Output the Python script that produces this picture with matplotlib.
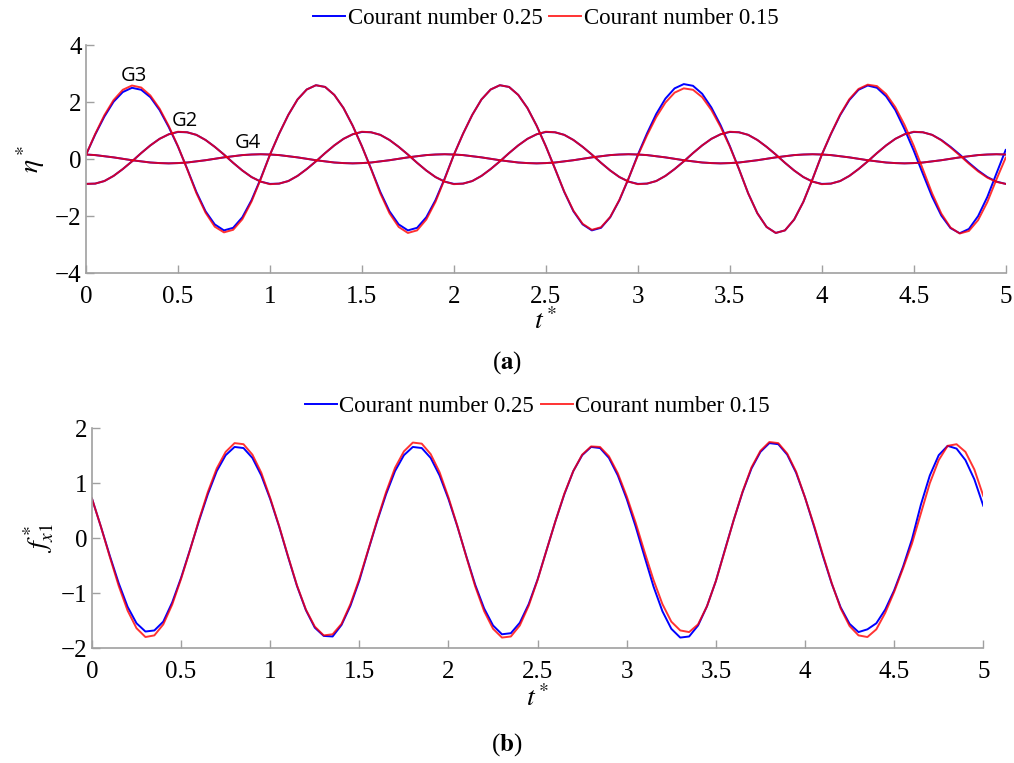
import numpy as np
import matplotlib
matplotlib.use('Agg')
import matplotlib.pyplot as plt

plt.rcParams['font.family'] = ['Liberation Serif', 'DejaVu Serif']
plt.rcParams['mathtext.fontset'] = 'stix'

t = np.linspace(0, 5, 101)

# (a) free-surface elevation at gauges G3, G2, G4
g3_c025 = [0.15, 0.86, 1.49, 2.01, 2.35, 2.50, 2.43, 2.17, 1.72, 1.12,
           0.44, -0.34, -1.15, -1.83, -2.29, -2.50, -2.41, -2.04, -1.44, -0.68,
           0.15, 0.89, 1.55, 2.09, 2.44, 2.59, 2.53, 2.25, 1.79, 1.17,
           0.45, -0.34, -1.15, -1.83, -2.29, -2.50, -2.41, -2.04, -1.44, -0.68,
           0.15, 0.89, 1.55, 2.09, 2.44, 2.59, 2.53, 2.25, 1.79, 1.17,
           0.45, -0.34, -1.15, -1.83, -2.29, -2.50, -2.41, -2.04, -1.44, -0.68,
           0.15, 0.90, 1.58, 2.12, 2.48, 2.63, 2.57, 2.29, 1.81, 1.19,
           0.46, -0.35, -1.20, -1.90, -2.38, -2.59, -2.50, -2.12, -1.50, -0.70,
           0.15, 0.88, 1.54, 2.07, 2.43, 2.58, 2.50, 2.20, 1.72, 1.05,
           0.30, -0.52, -1.32, -1.98, -2.42, -2.60, -2.45, -2.00, -1.33, -0.50,
           0.32]
g3_c015 = [0.15, 0.88, 1.54, 2.07, 2.43, 2.58, 2.51, 2.23, 1.77, 1.16,
           0.45, -0.35, -1.19, -1.88, -2.37, -2.57, -2.48, -2.11, -1.49, -0.70,
           0.15, 0.89, 1.55, 2.09, 2.44, 2.59, 2.53, 2.25, 1.79, 1.17,
           0.45, -0.35, -1.20, -1.90, -2.38, -2.59, -2.50, -2.12, -1.50, -0.70,
           0.15, 0.89, 1.55, 2.09, 2.44, 2.59, 2.53, 2.25, 1.79, 1.17,
           0.45, -0.34, -1.14, -1.81, -2.27, -2.48, -2.39, -2.03, -1.43, -0.67,
           0.12, 0.83, 1.47, 1.98, 2.33, 2.48, 2.43, 2.17, 1.72, 1.13,
           0.44, -0.35, -1.20, -1.90, -2.38, -2.59, -2.50, -2.12, -1.50, -0.70,
           0.15, 0.89, 1.56, 2.10, 2.46, 2.61, 2.56, 2.28, 1.82, 1.20,
           0.47, -0.36, -1.20, -1.91, -2.40, -2.61, -2.52, -2.14, -1.51, -0.71,
           0.05]
g2_c025 = [-0.87, -0.86, -0.77, -0.59, -0.35, -0.08, 0.21, 0.48, 0.71, 0.87,
           0.95, 0.94, 0.85, 0.67, 0.43, 0.16, -0.13, -0.40, -0.63, -0.79,
           -0.87, -0.86, -0.77, -0.59, -0.35, -0.08, 0.21, 0.48, 0.71, 0.87,
           0.95, 0.94, 0.85, 0.67, 0.43, 0.16, -0.13, -0.40, -0.63, -0.79,
           -0.87, -0.86, -0.77, -0.59, -0.35, -0.08, 0.21, 0.48, 0.71, 0.87,
           0.95, 0.94, 0.85, 0.67, 0.43, 0.16, -0.13, -0.40, -0.63, -0.79,
           -0.87, -0.86, -0.77, -0.59, -0.35, -0.08, 0.21, 0.48, 0.71, 0.87,
           0.95, 0.94, 0.85, 0.67, 0.43, 0.16, -0.13, -0.40, -0.63, -0.79,
           -0.87, -0.86, -0.77, -0.59, -0.35, -0.08, 0.21, 0.48, 0.71, 0.87,
           0.95, 0.94, 0.85, 0.67, 0.43, 0.16, -0.13, -0.40, -0.63, -0.79,
           -0.87]
g2_c015 = [-0.87, -0.86, -0.77, -0.59, -0.35, -0.08, 0.21, 0.48, 0.71, 0.87,
           0.96, 0.94, 0.85, 0.67, 0.43, 0.16, -0.13, -0.40, -0.63, -0.79,
           -0.88, -0.86, -0.77, -0.59, -0.35, -0.08, 0.21, 0.48, 0.71, 0.87,
           0.96, 0.94, 0.85, 0.67, 0.43, 0.16, -0.13, -0.40, -0.63, -0.79,
           -0.88, -0.86, -0.77, -0.59, -0.35, -0.08, 0.21, 0.48, 0.71, 0.87,
           0.96, 0.94, 0.85, 0.67, 0.43, 0.16, -0.13, -0.40, -0.63, -0.79,
           -0.88, -0.86, -0.77, -0.59, -0.35, -0.08, 0.21, 0.48, 0.71, 0.87,
           0.96, 0.94, 0.85, 0.67, 0.43, 0.16, -0.13, -0.40, -0.63, -0.79,
           -0.88, -0.86, -0.77, -0.59, -0.35, -0.08, 0.21, 0.48, 0.71, 0.87,
           0.96, 0.94, 0.85, 0.66, 0.41, 0.13, -0.16, -0.43, -0.65, -0.80,
           -0.87]
g4_c025 = [0.16, 0.14, 0.10, 0.06, 0.01, -0.04, -0.08, -0.12, -0.14, -0.15,
           -0.14, -0.12, -0.08, -0.04, 0.01, 0.06, 0.10, 0.14, 0.16, 0.17,
           0.16, 0.14, 0.10, 0.06, 0.01, -0.04, -0.08, -0.12, -0.14, -0.15,
           -0.14, -0.12, -0.08, -0.04, 0.01, 0.06, 0.10, 0.14, 0.16, 0.17,
           0.16, 0.14, 0.10, 0.06, 0.01, -0.04, -0.08, -0.12, -0.14, -0.15,
           -0.14, -0.12, -0.08, -0.04, 0.01, 0.06, 0.10, 0.14, 0.16, 0.17,
           0.16, 0.14, 0.10, 0.06, 0.01, -0.04, -0.08, -0.12, -0.14, -0.15,
           -0.14, -0.12, -0.08, -0.04, 0.01, 0.06, 0.10, 0.14, 0.16, 0.17,
           0.16, 0.14, 0.10, 0.06, 0.01, -0.04, -0.08, -0.12, -0.14, -0.15,
           -0.14, -0.12, -0.08, -0.04, 0.01, 0.06, 0.10, 0.14, 0.16, 0.17,
           0.16]
g4_c015 = list(g4_c025)

# (b) horizontal force
f_c025 = [0.72, 0.21, -0.32, -0.82, -1.25, -1.55, -1.70, -1.68, -1.52, -1.17,
          -0.72, -0.21, 0.31, 0.80, 1.22, 1.51, 1.66, 1.64, 1.46, 1.14,
          0.71, 0.21, -0.34, -0.87, -1.31, -1.63, -1.78, -1.79, -1.58, -1.23,
          -0.77, -0.22, 0.31, 0.80, 1.22, 1.51, 1.66, 1.64, 1.46, 1.14,
          0.71, 0.21, -0.33, -0.85, -1.28, -1.59, -1.75, -1.73, -1.54, -1.20,
          -0.75, -0.22, 0.31, 0.80, 1.22, 1.51, 1.66, 1.64, 1.46, 1.14,
          0.71, 0.21, -0.34, -0.88, -1.33, -1.65, -1.81, -1.79, -1.59, -1.24,
          -0.78, -0.22, 0.33, 0.84, 1.27, 1.57, 1.73, 1.71, 1.52, 1.19,
          0.74, 0.22, -0.32, -0.83, -1.26, -1.56, -1.71, -1.66, -1.55, -1.30,
          -0.95, -0.52, -0.02, 0.61, 1.14, 1.51, 1.68, 1.63, 1.42, 1.07,
          0.59]
f_c015 = [0.72, 0.21, -0.34, -0.87, -1.32, -1.64, -1.80, -1.77, -1.57, -1.21,
          -0.74, -0.22, 0.33, 0.84, 1.27, 1.57, 1.73, 1.71, 1.52, 1.19,
          0.73, 0.22, -0.33, -0.86, -1.30, -1.61, -1.77, -1.75, -1.56, -1.20,
          -0.74, -0.21, 0.33, 0.84, 1.28, 1.58, 1.74, 1.72, 1.53, 1.20,
          0.74, 0.22, -0.34, -0.88, -1.33, -1.65, -1.81, -1.79, -1.59, -1.23,
          -0.76, -0.22, 0.31, 0.81, 1.22, 1.52, 1.67, 1.66, 1.49, 1.18,
          0.76, 0.28, -0.25, -0.76, -1.20, -1.52, -1.68, -1.71, -1.57, -1.24,
          -0.78, -0.23, 0.33, 0.85, 1.29, 1.59, 1.75, 1.73, 1.54, 1.21,
          0.74, 0.24, -0.30, -0.82, -1.28, -1.60, -1.77, -1.80, -1.66, -1.36,
          -0.98, -0.55, -0.10, 0.45, 1.00, 1.42, 1.68, 1.71, 1.57, 1.25,
          0.77]

gauge_labels = ['G3', 'G2', 'G4']
gauge_label_pos = [(0.26, 2.9), (0.54, 1.35), (0.88, 0.55)]
series_names = ['Courant number 0.25', 'Courant number 0.15']

BLUE = '#0000ff'
RED = '#ff0000'
RED_ALPHA = 0.8
GREY = '#a0a0a0'
FS = 18

fig = plt.figure(figsize=(10.14, 7.63), dpi=100)
ax1 = fig.add_axes([0.0848, 0.642, 0.907, 0.299])
ax2 = fig.add_axes([0.0907, 0.1507, 0.879, 0.288])


def style(ax, ylim, yticks):
    ax.set_xlim(0, 5)
    ax.set_ylim(*ylim)
    ax.set_xticks([0, 0.5, 1, 1.5, 2, 2.5, 3, 3.5, 4, 4.5, 5])
    ax.set_xticklabels(['0', '0.5', '1', '1.5', '2', '2.5', '3', '3.5', '4', '4.5', '5'])
    ax.set_yticks(yticks)
    for s in ['top', 'right']:
        ax.spines[s].set_visible(False)
    for s in ['left', 'bottom']:
        ax.spines[s].set_color(GREY)
        ax.spines[s].set_linewidth(1.2)
    ax.tick_params(direction='in', length=6, width=1.0, color=GREY,
                   labelsize=FS, labelcolor='black')
    ax.tick_params(axis='x', pad=9)
    ax.tick_params(axis='y', pad=3)


# --- (a) ---
lw = 1.4
ax1.plot(t, g3_c025, color=BLUE, lw=lw, label=series_names[0])
ax1.plot(t, g2_c025, color=BLUE, lw=lw)
ax1.plot(t, g4_c025, color=BLUE, lw=lw)
ax1.plot(t, g3_c015, color=RED, lw=lw, alpha=RED_ALPHA, label=series_names[1])
ax1.plot(t, g2_c015, color=RED, lw=lw, alpha=RED_ALPHA)
ax1.plot(t, g4_c015, color=RED, lw=lw, alpha=RED_ALPHA)
for name, (x, y) in zip(gauge_labels, gauge_label_pos):
    ax1.text(x, y, name, family='Open Sans', fontsize=14.5,
             ha='center', va='center')
style(ax1, (-4, 4), [-4, -2, 0, 2, 4])
ax1.set_xlabel(r'$t^*$', fontsize=20, labelpad=0)
ax1.set_ylabel(r'$\eta^*$', fontsize=20, labelpad=6)
ax1.legend(loc='center', bbox_to_anchor=(0.5, 1.115), ncol=2, frameon=False,
           fontsize=16.5, handlelength=1.4, handletextpad=0.1, columnspacing=0.3,
           borderpad=0)

# --- (b) ---
ax2.plot(t, f_c025, color=BLUE, lw=lw, label=series_names[0])
ax2.plot(t, f_c015, color=RED, lw=lw, alpha=RED_ALPHA, label=series_names[1])
style(ax2, (-2, 2), [-2, -1, 0, 1, 2])
ax2.set_xlabel(r'$t^*$', fontsize=20, labelpad=2)
ax2.set_ylabel(r'$f^*_{x1}$', fontsize=20, labelpad=4)
ax2.legend(loc='center', bbox_to_anchor=(0.5, 1.1), ncol=2, frameon=False,
           fontsize=16.5, handlelength=1.4, handletextpad=0.1, columnspacing=0.3,
           borderpad=0)

fig.text(0.5, 1 - 363 / 763, r'($\mathbf{a}$)', fontsize=FS, ha='center', va='center')
fig.text(0.5, 1 - 745 / 763, r'($\mathbf{b}$)', fontsize=FS, ha='center', va='center')

fig.savefig('out.png', dpi=100)
